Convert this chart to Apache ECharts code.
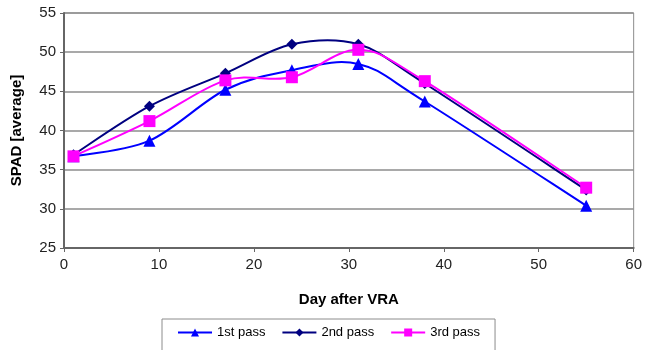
<!DOCTYPE html>
<html>
<head>
<meta charset="utf-8">
<script src="https://cdn.jsdelivr.net/npm/echarts@6/dist/echarts.min.js"></script>
<style>
  html, body { margin: 0; padding: 0; background: #fff; }
  #chart { width: 645px; height: 350px; }
</style>
</head>
<body>
<div id="chart"></div>
<script>
// Days after VRA at which SPAD was measured
const days = [1, 9, 17, 24, 31, 38, 55];
// Average SPAD readings for each pass
const pass1 = [36.7, 38.7, 45.2, 47.7, 48.5, 43.7, 30.4];
const pass2 = [36.9, 43.1, 47.3, 51.0, 51.0, 46.0, 32.4];
const pass3 = [36.7, 41.2, 46.4, 46.8, 50.3, 46.3, 32.7];
const seriesNames = ['1st pass', '2nd pass', '3rd pass'];
const colors = ['#0000ff', '#000080', '#ff00ff'];
const symbols = ['triangle', 'diamond', 'rect'];
const symbolSizes = [12, 11, 12];

const pairs = vals => days.map((d, i) => [d, vals[i]]);
const font = 'Liberation Sans, Arial, sans-serif';

const chart = echarts.init(document.getElementById('chart'), null, { renderer: 'canvas' });

// Spreadsheet-style smoothed curve: cubic Bezier segments whose control
// points follow the Catmull-Rom tangents (allows overshoot between points).
function smoothCurve(vals, color) {
  return {
    type: 'custom',
    silent: true,
    z: 1,
    data: [0],
    renderItem: function (params, api) {
      const pts = days.map((d, i) => api.coord([d, vals[i]]));
      const n = pts.length;
      const parts = ['M' + pts[0][0] + ' ' + pts[0][1]];
      for (let i = 0; i < n - 1; i++) {
        const p0 = pts[Math.max(i - 1, 0)];
        const p1 = pts[i];
        const p2 = pts[i + 1];
        const p3 = pts[Math.min(i + 2, n - 1)];
        const t = 1 / 6;
        const c1 = [p1[0] + (p2[0] - p0[0]) * t, p1[1] + (p2[1] - p0[1]) * t];
        const c2 = [p2[0] - (p3[0] - p1[0]) * t, p2[1] - (p3[1] - p1[1]) * t];
        parts.push('C' + c1[0] + ' ' + c1[1] + ' ' + c2[0] + ' ' + c2[1] + ' ' + p2[0] + ' ' + p2[1]);
      }
      return {
        type: 'path',
        shape: { pathData: parts.join(' ') },
        style: { fill: 'none', stroke: color, lineWidth: 2 }
      };
    }
  };
}

// Marker series (carry the legend entries); their straight lines are hidden.
function markerSeries(idx, vals) {
  return {
    name: seriesNames[idx],
    type: 'line',
    z: 2,
    data: pairs(vals),
    symbol: symbols[idx],
    symbolSize: symbolSizes[idx],
    showAllSymbol: true,
    lineStyle: { color: colors[idx], width: 2, opacity: 0 },
    itemStyle: { color: colors[idx] },
    emphasis: { disabled: true }
  };
}

chart.setOption({
  animation: false,
  backgroundColor: '#ffffff',
  grid: {
    left: 64, right: 9, top: 13, bottom: 102,
    show: true, borderColor: '#8c8c8c', borderWidth: 1, backgroundColor: 'transparent'
  },
  xAxis: {
    type: 'value', min: 0, max: 60, interval: 10,
    name: 'Day after VRA', nameLocation: 'middle', nameGap: 44,
    nameTextStyle: { fontFamily: font, fontWeight: 'bold', fontSize: 15, color: '#000' },
    axisLine: { lineStyle: { color: '#666', width: 2 } },
    axisTick: { show: true, length: 4, lineStyle: { color: '#666' } },
    axisLabel: { fontFamily: font, fontSize: 15, color: '#222', margin: 9 },
    splitLine: { show: false }
  },
  yAxis: {
    type: 'value', min: 25, max: 55, interval: 5,
    name: 'SPAD [average]', nameLocation: 'middle', nameGap: 40,
    nameTextStyle: { fontFamily: font, fontWeight: 'bold', fontSize: 15, color: '#000' },
    axisLine: { show: true, lineStyle: { color: '#666', width: 2 } },
    axisTick: { show: true, length: 4, lineStyle: { color: '#666' } },
    axisLabel: { fontFamily: font, fontSize: 15, color: '#222', margin: 8 },
    splitLine: { show: true, lineStyle: { color: '#8c8c8c', width: 1.5 } }
  },
  legend: {
    data: seriesNames.map((name, i) => ({
      name: name,
      lineStyle: { color: colors[i], width: 2, opacity: 1 }
    })),
    left: 162, top: 319, width: 331,
    padding: [7, 15, 20, 15],
    itemGap: 16, itemWidth: 34, itemHeight: 10,
    borderColor: '#8c8c8c', borderWidth: 1,
    textStyle: { fontFamily: font, fontSize: 13, color: '#000' }
  },
  series: [
    smoothCurve(pass1, colors[0]),
    smoothCurve(pass2, colors[1]),
    smoothCurve(pass3, colors[2]),
    markerSeries(0, pass1),
    markerSeries(1, pass2),
    markerSeries(2, pass3)
  ]
});
</script>
</body>
</html>
